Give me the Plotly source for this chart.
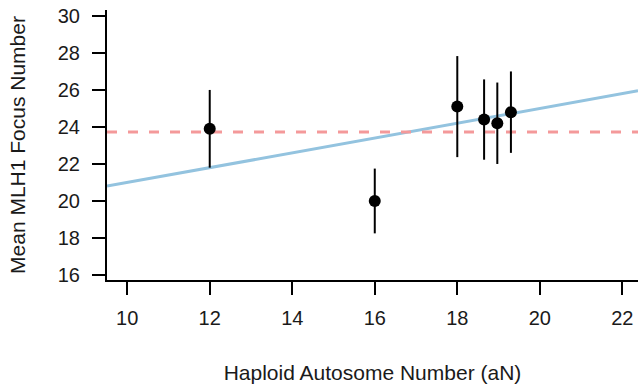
import plotly.graph_objects as go

# Data
aN = [12, 16, 18, 18.65, 18.97, 19.3]
mlh1_mean = [23.9, 20.0, 25.1, 24.4, 24.2, 24.8]
mlh1_err = [2.1, 1.75, 2.73, 2.17, 2.2, 2.2]
fit_intercept = 17.0
fit_slope = 0.40
x_range = [9.51, 22.38]
y_range = [15.73, 30.32]
x_ticks = [10, 12, 14, 16, 18, 20, 22]
y_ticks = [16, 18, 20, 22, 24, 26, 28, 30]

grand_mean = sum(mlh1_mean) / len(mlh1_mean)
fit_x = x_range
fit_y = [fit_intercept + fit_slope * v for v in fit_x]

FONT = "Liberation Sans, Arial, sans-serif"

fig = go.Figure()
fig.add_trace(go.Scatter(
    x=fit_x, y=fit_y, mode="lines",
    line=dict(color="#93c3df", width=3), hoverinfo="skip", showlegend=False))
fig.add_trace(go.Scatter(
    x=fit_x, y=[grand_mean, grand_mean], mode="lines",
    line=dict(color="#f4999a", width=3, dash="10px,11px"), hoverinfo="skip", showlegend=False))
fig.add_trace(go.Scatter(
    x=aN, y=mlh1_mean, mode="markers",
    marker=dict(color="black", size=12),
    error_y=dict(type="data", array=mlh1_err, color="black", thickness=2, width=0),
    showlegend=False))

axis_common = dict(
    showline=True, linecolor="black", linewidth=2,
    ticks="outside", ticklen=13, tickwidth=2, tickcolor="black",
    showgrid=False, zeroline=False,
    tickfont=dict(family=FONT, size=20, color="#1a1a1a"),
)
fig.update_xaxes(range=x_range, tickvals=x_ticks, ticklabelstandoff=6,
                 title=dict(text="Haploid Autosome Number (aN)", font=dict(family=FONT, size=21, color="#1a1a1a"), standoff=38),
                 **axis_common)
fig.update_yaxes(range=y_range, tickvals=y_ticks, ticklabelstandoff=8,
                 title=dict(text="Mean MLH1 Focus Number", font=dict(family=FONT, size=21, color="#1a1a1a"), standoff=26),
                 **axis_common)
fig.update_layout(
    width=638, height=384,
    margin=dict(l=107, r=0, t=10, b=104),
    plot_bgcolor="white", paper_bgcolor="white",
)
fig.write_html("out.html")
